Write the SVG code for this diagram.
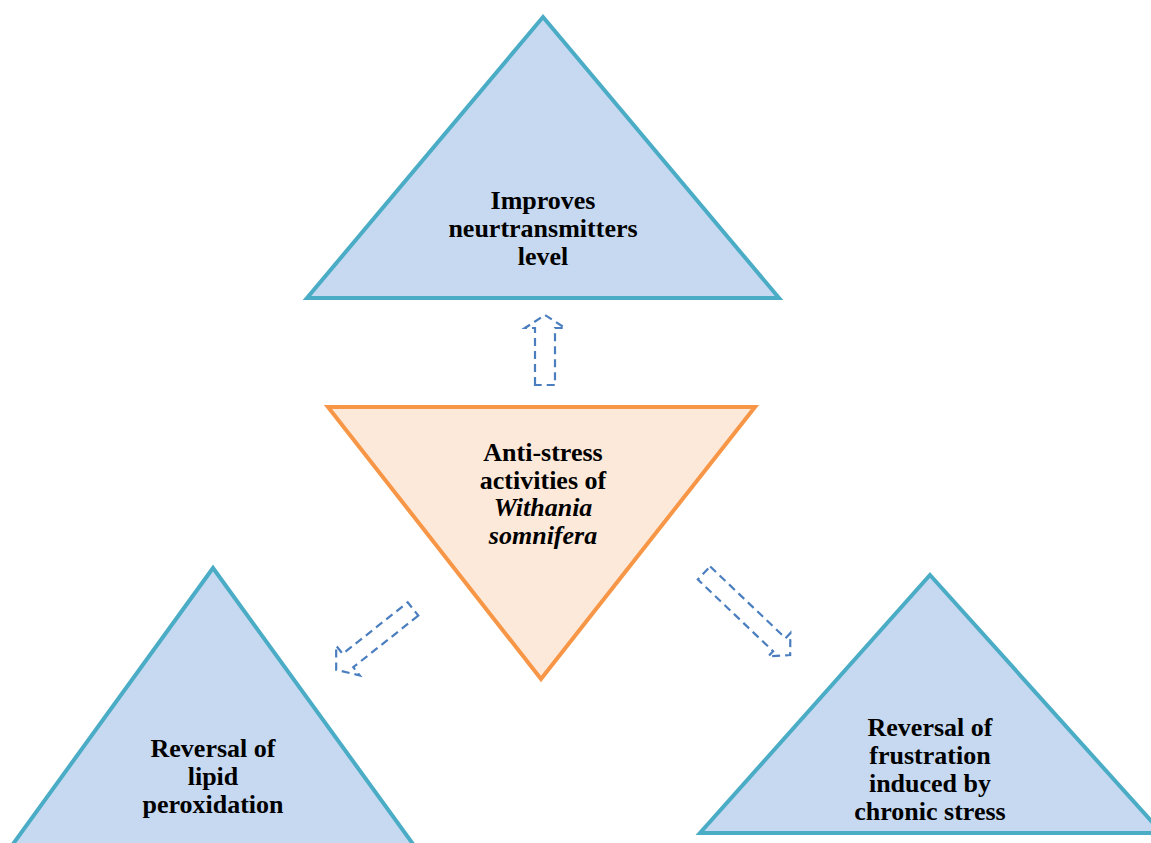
<svg xmlns="http://www.w3.org/2000/svg" width="1151" height="843" viewBox="0 0 1151 843">
<defs>
<style>
.blue{fill:#c6d9f1;stroke:#4bacc6;stroke-width:4;stroke-linejoin:miter}
.orange{fill:#fde9d9;stroke:#f79646;stroke-width:4}
.arr{fill:none;stroke:#4a7ebf;stroke-width:2.2;stroke-dasharray:8 5}
text{font-family:'Liberation Serif','Times New Roman',serif;font-weight:bold;font-size:26px;text-anchor:middle;fill:#000}
.it{font-style:italic}
</style>
</defs>
<rect width="1151" height="843" fill="#fff"/>
<g id="top">
<polygon class="blue" points="543,17 779,298 307,298"/>
<text x="543" y="209">Improves</text>
<text x="543" y="237">neurtransmitters</text>
<text x="543" y="265">level</text>
</g>
<g id="center">
<polygon class="orange" points="328,407 755,407 541,679"/>
<text x="543" y="461">Anti-stress</text>
<text x="543" y="489">activities of</text>
<text x="543" y="516" class="it">Withania</text>
<text x="543" y="544" class="it">somnifera</text>
</g>
<g id="left">
<polygon class="blue" points="213,568 426,862 0,862"/>
<text x="213" y="757">Reversal of</text>
<text x="213" y="785">lipid</text>
<text x="213" y="813">peroxidation</text>
</g>
<g id="right">
<polygon class="blue" points="930,575 1162,833 700,833"/>
<text x="930" y="736">Reversal of</text>
<text x="930" y="764">frustration</text>
<text x="930" y="792">induced by</text>
<text x="930" y="820">chronic stress</text>
</g>
<g id="connectors">
<path class="arr" transform="translate(545,385) rotate(-90)" d="M0,-10 L57,-10 L57,-20 L70,0 L57,20 L57,10 L0,10 Z"/>
<path class="arr" transform="translate(413,609) rotate(141.6)" d="M0,-8.5 L83,-8.5 L83,-19 L98,0 L83,19 L83,8.5 L0,8.5 Z"/>
<path class="arr" transform="translate(704,573) rotate(43.6)" d="M0,-9 L104,-9 L104,-16 L119,0 L104,16 L104,9 L0,9 Z"/>
</g>
</svg>
